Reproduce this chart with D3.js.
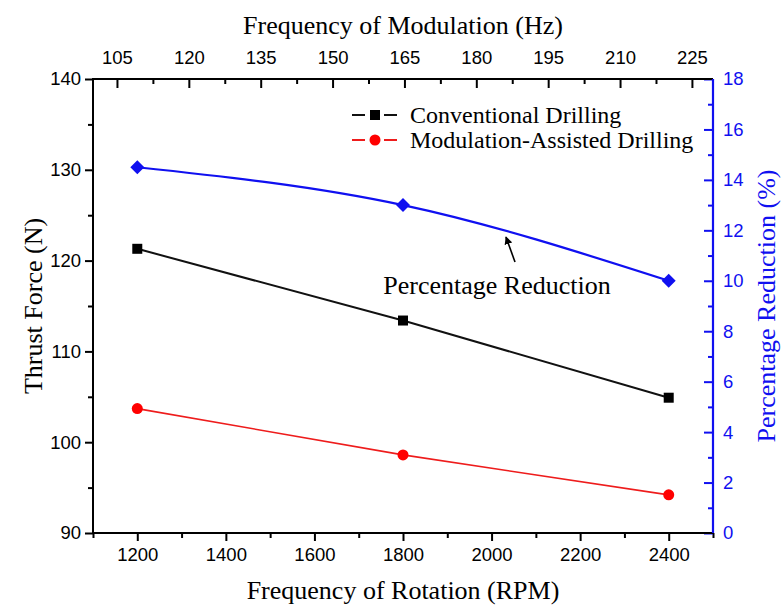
<!DOCTYPE html>
<html>
<head>
<meta charset="utf-8">
<script src="https://cdn.jsdelivr.net/npm/d3@7"></script>
<style>
  body { margin: 0; background: #fff; }
  .tick text { font-family: "Liberation Sans", Arial, sans-serif; font-size: 18.5px; }
  .serif { font-family: "Liberation Serif", "Times New Roman", serif; }
</style>
</head>
<body>
<div id="chart"></div>
<script>
// data
const rpm = [1200, 1800, 2400];
const conventional = [121.3, 113.4, 104.9];
const modulation = [103.7, 98.6, 94.2];
const reduction = [14.5, 13.0, 10.0];

const rpmTicks = [1200, 1400, 1600, 1800, 2000, 2200, 2400];
const rpmMinor = [1100, 1300, 1500, 1700, 1900, 2100, 2300, 2500];
const hzTicks = [105, 120, 135, 150, 165, 180, 195, 210, 225];
const hzMinor = [112.5, 127.5, 142.5, 157.5, 172.5, 187.5, 202.5, 217.5];
const forceTicks = [90, 100, 110, 120, 130, 140];
const forceMinor = [95, 105, 115, 125, 135];
const pctTicks = [0, 2, 4, 6, 8, 10, 12, 14, 16, 18];
const pctMinor = [1, 3, 5, 7, 9, 11, 13, 15, 17];

const width = 781, height = 606;
const mLeft = 93, mRight = 713, mTop = 79, mBottom = 533;
const blue = "#1010f0";

const svg = d3.select("#chart").append("svg")
  .attr("width", width)
  .attr("height", height);

// scales
const x = d3.scaleLinear().domain([1100, 2500]).range([mLeft, mRight]);
const xTop = d3.scaleLinear().domain([100, 229.4]).range([mLeft, mRight]);
const y = d3.scaleLinear().domain([90, 140]).range([mBottom, mTop]);
const yR = d3.scaleLinear().domain([0, 18]).range([mBottom, mTop]);

function style(g, color) {
  g.select(".domain").remove();
  g.selectAll("line").attr("stroke", color).attr("stroke-width", 2);
  g.selectAll("text").attr("fill", color);
}

// bottom axis
svg.append("g").attr("transform", `translate(0,${mBottom})`)
  .call(d3.axisBottom(x).tickValues(rpmTicks).tickSize(8).tickPadding(7).tickFormat(d3.format("d")))
  .call(g => style(g, "#000"));
svg.append("g").attr("transform", `translate(0,${mBottom})`)
  .call(d3.axisBottom(x).tickValues(rpmMinor).tickSize(5).tickFormat(""))
  .call(g => style(g, "#000"));

// top axis (ticks inward)
svg.append("g").attr("transform", `translate(0,${mTop})`)
  .call(d3.axisTop(xTop).tickValues(hzTicks).tickSize(-9).tickPadding(15))
  .call(g => style(g, "#000"));
svg.append("g").attr("transform", `translate(0,${mTop})`)
  .call(d3.axisTop(xTop).tickValues(hzMinor).tickSize(-5).tickFormat(""))
  .call(g => style(g, "#000"));

// left axis
svg.append("g").attr("transform", `translate(${mLeft},0)`)
  .call(d3.axisLeft(y).tickValues(forceTicks).tickSize(8).tickPadding(4))
  .call(g => style(g, "#000"));
svg.append("g").attr("transform", `translate(${mLeft},0)`)
  .call(d3.axisLeft(y).tickValues(forceMinor).tickSize(5).tickFormat(""))
  .call(g => style(g, "#000"));

// right axis (ticks inward, blue)
svg.append("g").attr("transform", `translate(${mRight},0)`)
  .call(d3.axisRight(yR).tickValues(pctTicks).tickSize(-9).tickPadding(10))
  .call(g => style(g, blue));
svg.append("g").attr("transform", `translate(${mRight},0)`)
  .call(d3.axisRight(yR).tickValues(pctMinor).tickSize(-5).tickFormat(""))
  .call(g => style(g, blue));

// frame
svg.append("path")
  .attr("d", `M${mRight},${mTop}H${mLeft}V${mBottom}H${mRight}`)
  .attr("fill", "none").attr("stroke", "#000").attr("stroke-width", 2);
svg.append("line")
  .attr("x1", mRight).attr("x2", mRight).attr("y1", mTop).attr("y2", mBottom)
  .attr("stroke", blue).attr("stroke-width", 2.2);

// lines
const forceLine = d3.line().x((d, i) => x(rpm[i])).y(d => y(d));
const pctLine = d3.line().x((d, i) => x(rpm[i])).y(d => yR(d)).curve(d3.curveNatural);

svg.append("path").datum(conventional)
  .attr("d", forceLine).attr("fill", "none").attr("stroke", "#111").attr("stroke-width", 2);
svg.append("path").datum(modulation)
  .attr("d", forceLine).attr("fill", "none").attr("stroke", "#ee1c1c").attr("stroke-width", 1.6);
svg.append("path").datum(reduction)
  .attr("d", pctLine).attr("fill", "none").attr("stroke", blue).attr("stroke-width", 2.2);

// markers
svg.selectAll(".sq").data(conventional).enter().append("rect")
  .attr("x", (d, i) => x(rpm[i]) - 5).attr("y", d => y(d) - 5)
  .attr("width", 10).attr("height", 10).attr("fill", "#000");
svg.selectAll(".ci").data(modulation).enter().append("circle")
  .attr("cx", (d, i) => x(rpm[i])).attr("cy", d => y(d))
  .attr("r", 5.5).attr("fill", "#ff0000");
svg.selectAll(".di").data(reduction).enter().append("path")
  .attr("transform", (d, i) => `translate(${x(rpm[i])},${yR(d)})`)
  .attr("d", "M0,-7L7,0L0,7L-7,0Z").attr("fill", blue);

// axis titles
svg.append("text").attr("class", "serif")
  .attr("x", (mLeft + mRight) / 2).attr("y", 34)
  .attr("text-anchor", "middle").attr("font-size", 26)
  .text("Frequency of Modulation (Hz)");
svg.append("text").attr("class", "serif")
  .attr("x", (mLeft + mRight) / 2).attr("y", 599)
  .attr("text-anchor", "middle").attr("font-size", 26)
  .text("Frequency of Rotation (RPM)");
svg.append("text").attr("class", "serif")
  .attr("transform", `translate(42,${(mTop + mBottom) / 2}) rotate(-90)`)
  .attr("text-anchor", "middle").attr("font-size", 26)
  .text("Thrust Force (N)");
svg.append("text").attr("class", "serif")
  .attr("transform", `translate(775,${(mTop + mBottom) / 2}) rotate(-90)`)
  .attr("text-anchor", "middle").attr("font-size", 26).attr("fill", blue)
  .text("Percentage Reduction (%)");

// legend
const legend = [
  { label: "Conventional Drilling", color: "#111", shape: "square" },
  { label: "Modulation-Assisted Drilling", color: "#ee1c1c", shape: "circle" }
];
legend.forEach((d, i) => {
  const ly = 115 + i * 25;
  const g = svg.append("g");
  g.append("line").attr("x1", 352).attr("x2", 365).attr("y1", ly).attr("y2", ly)
    .attr("stroke", d.color).attr("stroke-width", 2);
  g.append("line").attr("x1", 384).attr("x2", 397).attr("y1", ly).attr("y2", ly)
    .attr("stroke", d.color).attr("stroke-width", 2);
  if (d.shape === "square") {
    g.append("rect").attr("x", 370).attr("y", ly - 5).attr("width", 10).attr("height", 10).attr("fill", "#000");
  } else {
    g.append("circle").attr("cx", 375).attr("cy", ly).attr("r", 5.5).attr("fill", "#ff0000");
  }
  g.append("text").attr("class", "serif")
    .attr("x", 410).attr("y", ly + 8).attr("font-size", 24)
    .text(d.label);
});

// annotation
svg.append("defs").append("marker")
  .attr("id", "arrow").attr("viewBox", "0 0 10 10")
  .attr("refX", 9).attr("refY", 5)
  .attr("markerWidth", 5).attr("markerHeight", 5)
  .attr("orient", "auto")
  .append("path").attr("d", "M0,0L10,5L0,10Z").attr("fill", "#000");
svg.append("line")
  .attr("x1", 515).attr("y1", 262).attr("x2", 506).attr("y2", 237)
  .attr("stroke", "#000").attr("stroke-width", 1.6)
  .attr("marker-end", "url(#arrow)");
svg.append("text").attr("class", "serif")
  .attr("x", 497).attr("y", 294)
  .attr("text-anchor", "middle").attr("font-size", 26)
  .text("Percentage Reduction");
</script>
</body>
</html>
